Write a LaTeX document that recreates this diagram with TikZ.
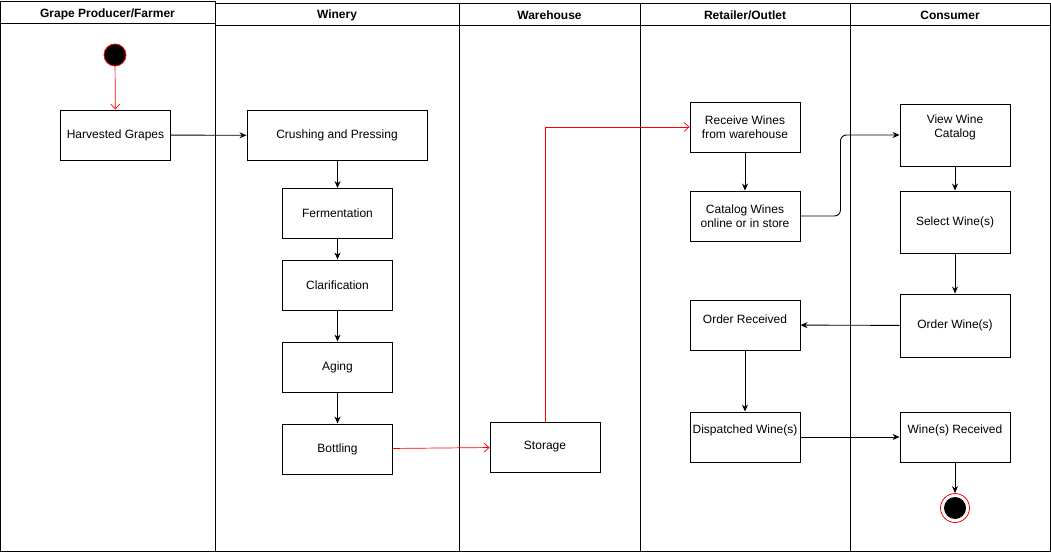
\documentclass[tikz,border=0pt]{standalone}
\usepackage{fontspec}
\setmainfont{Liberation Sans}
\usetikzlibrary{arrows.meta}
\begin{document}
\begin{tikzpicture}[x=1pt,y=-1pt,
  box/.style={draw, line width=0.9pt, minimum width=110, minimum height=50, align=center, font=\fontsize{12}{14}\selectfont, inner sep=1pt},
  lane/.style={draw, line width=0.9pt},
  head/.style={font=\bfseries\fontsize{12}{14}\selectfont},
  flow/.style={draw, line width=0.9pt, -{Stealth[length=7pt,width=6pt]}},
  redflow/.style={draw=red, line width=0.7pt, -{Straight Barb[length=5pt,width=9pt]}},
  lbl/.style={font=\fontsize{12}{14}\selectfont}
]
\useasboundingbox (0,0) rectangle (1051,553);
\fill[white] (0,0) rectangle (1051,553);
% lanes
\draw[lane] (0.5,1) rectangle (215,551.5);
\draw[lane] (0.5,23) -- (215,23);
\draw[lane] (215,3) rectangle (459,551.5);
\draw[lane] (459,3) rectangle (640,551.5);
\draw[lane] (640,3) rectangle (850,551.5);
\draw[lane] (850,3) rectangle (1050.5,551.5);
\draw[lane] (215,25) -- (1050.5,25);
\node[head] (h1) at (107.5,14) {Grape Producer/Farmer};
\node[head] (h2) at (337,15) {Winery};
\node[head] (h3) at (549.5,15) {Warehouse};
\node[head] (h4) at (745,15) {Retailer/Outlet};
\node[head] (h5) at (950,15) {Consumer};
% nodes
\node[circle, draw=red, fill=black, line width=0.8pt, minimum size=22, inner sep=0] (start) at (115,55) {};
\node[box] (hg) at (115.5,135) {Harvested Grapes};
\node[box, minimum width=180] (cp) at (337,135.5) {Crushing and Pressing};
\node[box] (fe) at (337.5,213.5) {Fermentation};
\node[box] (cl) at (337.5,285) {Clarification};
\node[box] (ag) at (337.5,367) {Aging};
\node[box] (bo) at (337.5,449) {Bottling};
\node[box] (st) at (545,447) {Storage};
\node[box] (rw) at (745,127) {Receive Wines\\from warehouse};
\node[box] (cw) at (745,216) {Catalog Wines\\online or in store};
\node[box] (orr) at (745,325) {};
\node[lbl] (orrt) at (745,319) {Order Received};
\node[box] (dw) at (745,437) {};
\node[lbl] (dwt) at (745,430) {Dispatched Wine(s)};
\node[box, minimum height=62] (vw) at (955,135) {};
\node[lbl, align=center] (vwt) at (955,127) {View Wine\\Catalog};
\node[box, minimum height=62] (sw) at (955,222) {Select Wine(s)};
\node[box, minimum height=63] (ow) at (955,325.5) {Order Wine(s)};
\node[box] (wr) at (955,437) {};
\node[lbl] (wrt) at (955,430) {Wine(s) Received};
\node[circle, draw=red, fill=white, line width=0.8pt, minimum size=29, inner sep=0,
  path picture={\fill[black] (path picture bounding box.center) circle (11);}] (end) at (955,508) {};
% edges
\draw[redflow] (start) -- (hg);
\draw[flow] (hg) -- (cp);
\draw[flow] (cp.south -| fe.north) -- (fe.north);
\draw[flow] (fe) -- (cl);
\draw[flow] (cl) -- (ag);
\draw[flow] (ag) -- (bo);
\draw[redflow] (bo) -- (st);
\draw[redflow] (st.north) |- (rw.west);
\draw[flow] (rw) -- (cw);
\draw[flow, rounded corners=6] (cw.east) -- ++(40,0) |- (vw.west);
\draw[flow] (vw) -- (sw);
\draw[flow] (sw) -- (ow);
\draw[flow] (ow) -- (orr);
\draw[flow] (orr) -- (dw);
\draw[flow] (dw) -- (wr);
\draw[flow] (wr) -- (end);
\end{tikzpicture}
\end{document}
